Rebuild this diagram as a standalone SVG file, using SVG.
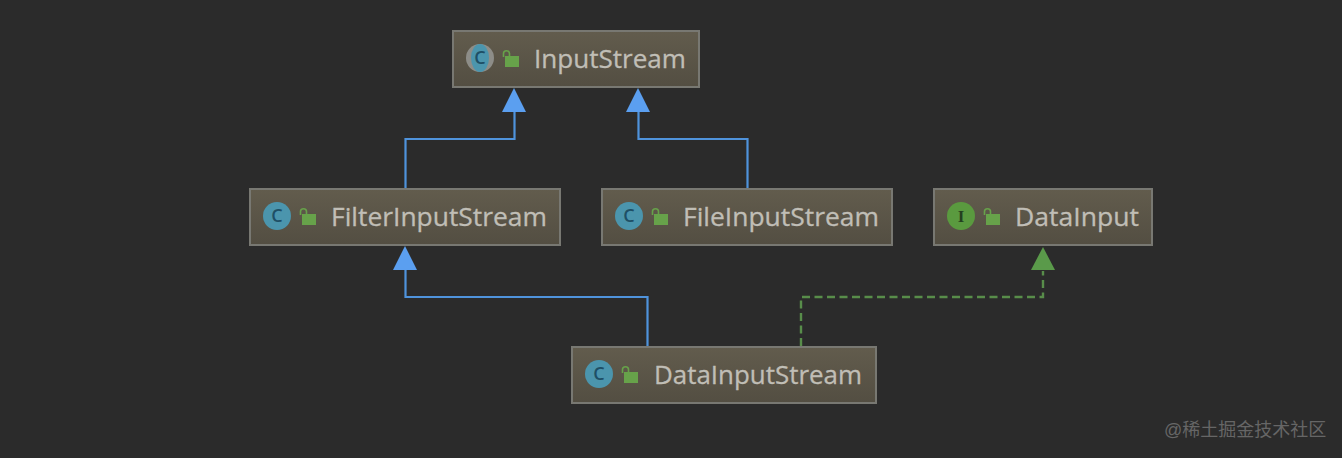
<svg xmlns="http://www.w3.org/2000/svg" width="1342" height="458" viewBox="0 0 1342 458">
<style>
.box{fill:url(#nodeFill);stroke:#787872;stroke-width:2}
.name{font-family:"Open Sans","Liberation Sans",sans-serif;font-size:26px;fill:#c0beb6;stroke:#c0beb6;stroke-width:.3}
.badge{font-family:"Open Sans","Liberation Sans",sans-serif;font-size:18px;font-weight:600;fill:#1e4f66;text-anchor:middle}
.badgeI{font-family:"Liberation Serif",serif;font-size:17px;font-weight:bold;fill:#24401f;text-anchor:middle}
.ext{fill:none;stroke:#4f93dc;stroke-width:2.200}
.impl{fill:none;stroke:#588d4a;stroke-width:2.400;stroke-dasharray:8 4.500}
.wm{font-family:"Liberation Sans","Noto Sans CJK SC",sans-serif;font-size:18px;fill:#666}
</style>
<defs>
<linearGradient id="nodeFill" x1="0" y1="0" x2="0" y2="1">
<stop offset="0" stop-color="#625c4d"/><stop offset="1" stop-color="#534e42"/>
</linearGradient>
<g id="lock">
<rect x="3" y="6" width="14" height="11" fill="#67a24a"/>
<path d="M1.500 7V3.500Q1.500 0.800 4.500 0.800Q7.500 0.800 7.500 3.500V6" fill="none" stroke="#67a24a" stroke-width="1.600"/>
</g>
</defs>
<rect width="1342" height="458" fill="#2b2b2b"/>
<g id="connectors">
<path class="ext" d="M405.500 188V139H514.500V112"/>
<path class="ext" d="M747.500 188V139H638.500V112"/>
<path class="ext" d="M647.500 346V297H405.500V270"/>
<path class="impl" d="M801 346V297H1043V271"/>
<path d="M514 88L526 112H502Z" fill="#5b9ff0"/>
<path d="M638 88L650 112H626Z" fill="#5b9ff0"/>
<path d="M405 246L417 270H393Z" fill="#5b9ff0"/>
<path d="M1043 247L1055 270H1031Z" fill="#5a9a4a"/>
</g>
<g id="node-inputstream">
<rect class="box" x="453" y="31" width="246" height="56"/>
<ellipse cx="480" cy="58" rx="14" ry="14" fill="#8d8d88"/>
<ellipse cx="480" cy="58" rx="9" ry="14" fill="#4b95ad"/>
<text class="badge" x="480" y="64">C</text>
<use href="#lock" x="502" y="50"/>
<text class="name" x="534" y="68" textLength="152" lengthAdjust="spacingAndGlyphs">InputStream</text>
</g>
<g id="node-filterinputstream">
<rect class="box" x="250" y="189" width="310" height="56"/>
<circle cx="277" cy="216" r="14" fill="#4b95ad"/>
<text class="badge" x="277" y="222">C</text>
<use href="#lock" x="299" y="208"/>
<text class="name" x="331" y="226" textLength="216" lengthAdjust="spacingAndGlyphs">FilterInputStream</text>
</g>
<g id="node-fileinputstream">
<rect class="box" x="602" y="189" width="290" height="56"/>
<circle cx="629" cy="216" r="14" fill="#4b95ad"/>
<text class="badge" x="629" y="222">C</text>
<use href="#lock" x="651" y="208"/>
<text class="name" x="683" y="226" textLength="196" lengthAdjust="spacingAndGlyphs">FileInputStream</text>
</g>
<g id="node-datainput">
<rect class="box" x="934" y="189" width="218" height="56"/>
<circle cx="961" cy="216" r="14" fill="#5a9a3f"/>
<text class="badgeI" x="961" y="222">I</text>
<use href="#lock" x="983" y="208"/>
<text class="name" x="1015" y="226" textLength="124" lengthAdjust="spacingAndGlyphs">DataInput</text>
</g>
<g id="node-datainputstream">
<rect class="box" x="572" y="347" width="304" height="56"/>
<circle cx="599" cy="374" r="14" fill="#4b95ad"/>
<text class="badge" x="599" y="380">C</text>
<use href="#lock" x="621" y="366"/>
<text class="name" x="654" y="384" textLength="208" lengthAdjust="spacingAndGlyphs">DataInputStream</text>
</g>
<text class="wm" x="1164" y="436">@稀土掘金技术社区</text>
</svg>
